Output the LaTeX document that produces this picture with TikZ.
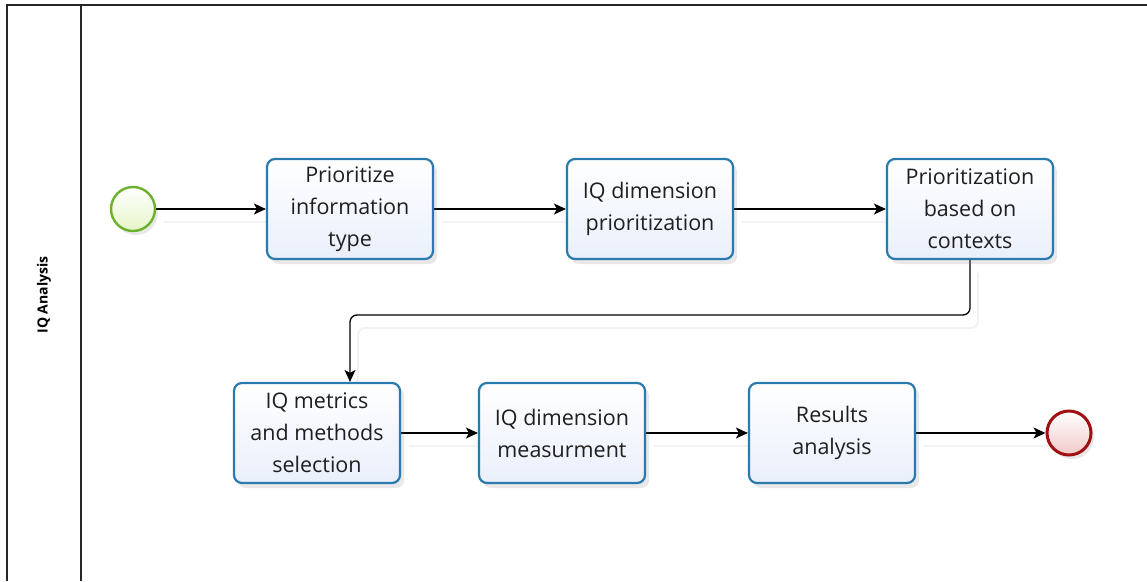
\documentclass[tikz,border=0pt]{standalone}
\usepackage{fontspec}
\setmainfont{Open Sans}
\usetikzlibrary{arrows.meta,shadows,backgrounds}
\definecolor{taskline}{HTML}{2A7AB0}
\definecolor{taskfill}{HTML}{E9EFFB}
\definecolor{startline}{HTML}{6CB02E}
\definecolor{startfill}{HTML}{E6F5C8}
\definecolor{endline}{HTML}{A00F12}
\definecolor{endfill}{HTML}{F1C9C9}
\tikzset{arrow/.style={-{Stealth[length=12pt,width=11pt,inset=3pt]}, line width=1.3pt,
    preaction={draw=black!5, -, line width=2pt, transform canvas={xshift=8pt, yshift=-13pt}}}}
\tikzset{task/.style={draw=taskline, line width=2.2pt, rounded corners=8pt,
    minimum width=166pt, minimum height=100pt, align=center,
    top color=white, bottom color=taskfill, text=black!88,
    font=\fontsize{21.5}{32}\selectfont,
    drop shadow={shadow xshift=4pt, shadow yshift=-5pt, opacity=0.18}}}
\tikzset{event/.style={circle, minimum size=44pt, inner sep=0pt,
    drop shadow={shadow xshift=3pt, shadow yshift=-4pt, opacity=0.18}}}

\begin{document}
\begin{tikzpicture}[x=1pt, y=-1pt]
    \useasboundingbox (0, 0) rectangle (1147, 581);
    % pool and lane
    \draw[line width=1.6pt, black!85] (1147, 5) -- (7, 5) -- (7, 581);
    \draw[line width=1.6pt, black!85] (81, 5) -- (81, 581);
    \node[rotate=90, font=\bfseries\fontsize{14}{16}\selectfont] (lane) at (44, 295) {IQ Analysis};

    \node[event, draw=startline, line width=2.4pt, top color=white, bottom color=startfill] (start) at (133, 209) {};
    \node[task] (infotype) at (350, 209) {Prioritize\\information\\type};
    \node[task] (dimprio) at (650, 209) {IQ dimension\\prioritization};
    \node[task] (contexts) at (970, 209) {Prioritization\\based on\\contexts};
    \node[task] (metrics) at (317, 433) {IQ metrics\\and methods\\selection};
    \node[task] (measure) at (562, 433) {IQ dimension\\measurment};
    \node[task] (results) at (832, 433) {Results\\analysis};
    \node[event, draw=endline, line width=3pt, top color=white, bottom color=endfill] (stop) at (1069, 433) {};

    % sequence flows, kept under the nodes
    \begin{scope}[on background layer]
    \draw[arrow] (start) -- (infotype);
    \draw[arrow] (infotype) -- (dimprio);
    \draw[arrow] (dimprio) -- (contexts);
    \draw[arrow, rounded corners=7pt] (contexts.south) -- (970, 315) -| ([xshift=33pt]metrics.north);
    \draw[arrow] (metrics) -- (measure);
    \draw[arrow] (measure) -- (results);
    \draw[arrow] (results) -- (stop);
    \end{scope}
\end{tikzpicture}
\end{document}
